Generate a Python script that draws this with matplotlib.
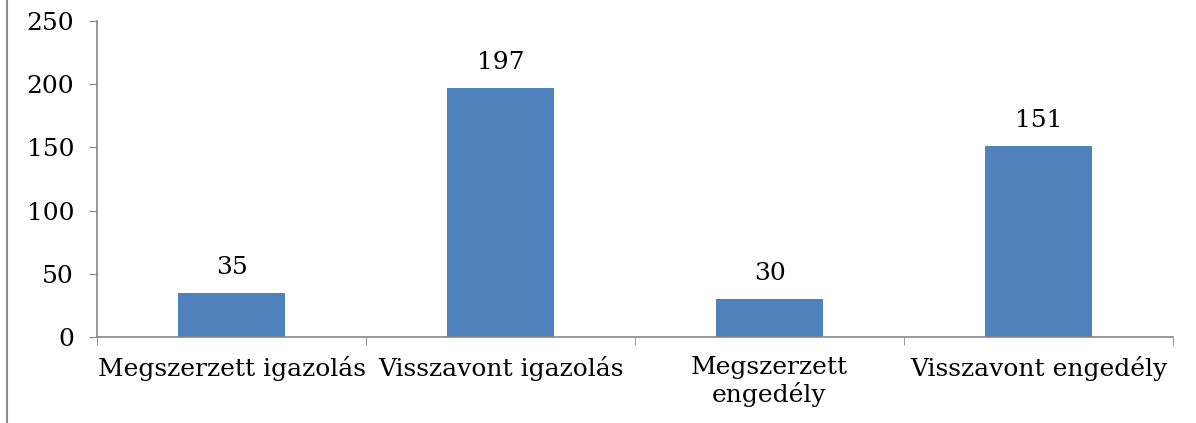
import matplotlib
matplotlib.use("Agg")
import matplotlib.pyplot as plt
from matplotlib.lines import Line2D
import numpy as np

categories = ["Megszerzett igazolás", "Visszavont igazolás", "Megszerzett\nengedély", "Visszavont engedély"]
values = [35, 197, 30, 151]
yticks = [0, 50, 100, 150, 200, 250]

plt.rcParams['font.family'] = ['DejaVu Serif']
fig = plt.figure(figsize=(11.96, 4.23), dpi=100)
ax = fig.add_axes([97/1196, 1 - 337/423, (1173 - 97)/1196, (337 - 21)/423])

FS = 18
x = np.arange(len(categories))
ax.bar(x, values, width=0.4, color="#4F81BD")
for xi, v in zip(x, values):
    ax.text(xi, v + 11, str(v), ha="center", va="bottom", fontsize=FS)

ax.set_xlim(-0.5, len(categories) - 0.5)
ax.set_ylim(0, 250)
ax.set_yticks(yticks)
ax.set_yticklabels([str(t) for t in yticks], fontsize=FS)
ax.set_xticks(x)
ax.set_xticklabels(categories, fontsize=FS, linespacing=1.15)
ax.set_xticks(np.arange(-0.5, len(categories)), minor=True)
ax.tick_params(axis="x", which="major", length=0, pad=14)
ax.tick_params(axis="x", which="minor", length=5.5, color="#868686", direction="out")
ax.tick_params(axis="y", length=5.5, color="#868686", pad=11)
for s in ["top", "right"]:
    ax.spines[s].set_visible(False)
for s in ["left", "bottom"]:
    ax.spines[s].set_color("#868686")
    ax.spines[s].set_linewidth(1.2)

fig.add_artist(Line2D([7/1196, 7/1196], [1, 0], color="#8c8c8c", linewidth=1.5, transform=fig.transFigure))

fig.savefig("out.png", dpi=100)
